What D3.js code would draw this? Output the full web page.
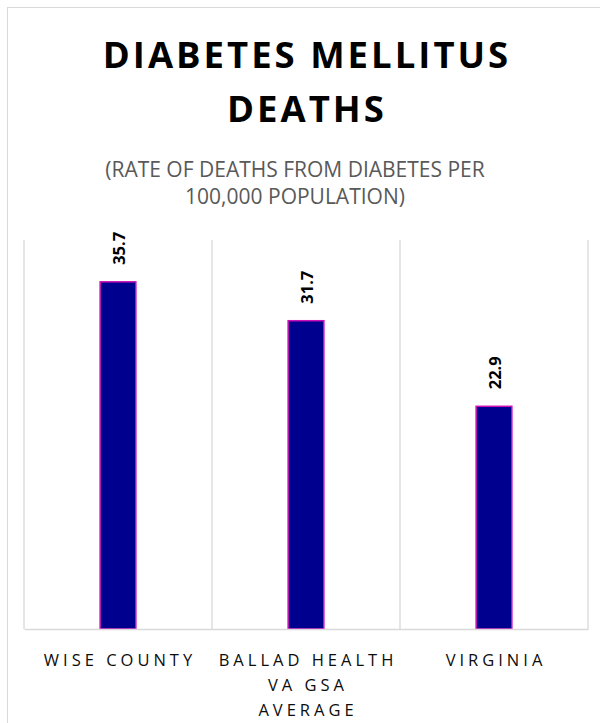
<!DOCTYPE html>
<html>
<head>
<meta charset="utf-8">
<script src="https://cdnjs.cloudflare.com/ajax/libs/d3/7.8.5/d3.min.js"></script>
<style>
  html, body { margin: 0; padding: 0; background: #fff; }
  svg { display: block; }
</style>
</head>
<body>
<script>
const categories = ["WISE COUNTY", "BALLAD HEALTH VA GSA AVERAGE", "VIRGINIA"];
const categoryLines = [["WISE COUNTY"], ["BALLAD HEALTH", "VA GSA", "AVERAGE"], ["VIRGINIA"]];
const values = [35.7, 31.7, 22.9];
const valueLabels = ["35.7", "31.7", "22.9"];
const titleLines = ["DIABETES MELLITUS", "DEATHS"];
const subtitleLines = ["(RATE OF DEATHS FROM DIABETES PER", "100,000 POPULATION)"];
const yDomain = [0, 40];

const W = 600, H = 723;
const svg = d3.select("body").append("svg").attr("width", W).attr("height", H);
const FONT = "'Open Sans', 'DejaVu Sans', sans-serif";

// chart border
svg.append("rect").attr("x", 7.5).attr("y", 7.5).attr("width", 620).attr("height", 740)
  .attr("fill", "#fff").attr("stroke", "#d9d9d9").attr("stroke-width", 1);

const plot = { left: 24, right: 588, top: 240, bottom: 629 };
const x = d3.scaleBand().domain(categories).range([plot.left, plot.right]).paddingInner(0).paddingOuter(0);
const y = d3.scaleLinear().domain(yDomain).range([plot.bottom, plot.top]);

// title
const title = svg.append("text").attr("text-anchor", "middle")
  .attr("font-family", FONT).attr("font-weight", 700).attr("font-size", 36.5)
  .attr("letter-spacing", 3).attr("fill", "#000");
titleLines.forEach((t, i) => title.append("tspan").attr("x", 307).attr("y", 68 + i * 54).text(t));

// subtitle
const sub = svg.append("text").attr("text-anchor", "middle")
  .attr("font-family", FONT).attr("font-size", 21).attr("fill", "#595959");
subtitleLines.forEach((t, i) => sub.append("tspan").attr("x", 295).attr("y", 177 + i * 27).text(t));

// vertical gridlines at category boundaries
const bounds = categories.map(c => x(c)).concat([plot.right]);
svg.append("g").selectAll("line").data(bounds).join("line")
  .attr("x1", d => d).attr("x2", d => d)
  .attr("y1", plot.top).attr("y2", plot.bottom)
  .attr("stroke", "#d9d9d9").attr("stroke-width", 1.3);

// bars
const barW = x.bandwidth() * 0.19;
svg.append("g").selectAll("rect").data(values).join("rect")
  .attr("x", (d, i) => x(categories[i]) + x.bandwidth() / 2 - barW / 2)
  .attr("y", d => y(d))
  .attr("width", barW)
  .attr("height", d => y(0) - y(d))
  .attr("fill", "#00008f")
  .attr("stroke", "#cc10b8").attr("stroke-width", 1.5);

// axis line
const xAxis = d3.axisBottom(x).tickSize(0).tickFormat("");
const gx = svg.append("g").attr("transform", `translate(0,${plot.bottom})`).call(xAxis);
gx.select(".domain").attr("stroke", "#d9d9d9").attr("stroke-width", 1.6);

// category labels
categories.forEach((c, i) => {
  const t = svg.append("text").attr("text-anchor", "middle")
    .attr("font-family", FONT).attr("font-size", 16.5).attr("letter-spacing", 4)
    .attr("fill", "#0d0d0d");
  categoryLines[i].forEach((ln, j) => t.append("tspan")
    .attr("x", x(c) + x.bandwidth() / 2 + 2).attr("y", 666 + j * 25).text(ln));
});

// data labels
svg.append("g").selectAll("text").data(values).join("text")
  .attr("transform", (d, i) => `translate(${x(categories[i]) + x.bandwidth() / 2},${y(d) - 17}) rotate(-90)`)
  .attr("text-anchor", "start").attr("dominant-baseline", "central")
  .attr("font-family", FONT).attr("font-weight", 700).attr("font-size", 16.5)
  .attr("fill", "#000")
  .text((d, i) => valueLabels[i]);
</script>
</body>
</html>
